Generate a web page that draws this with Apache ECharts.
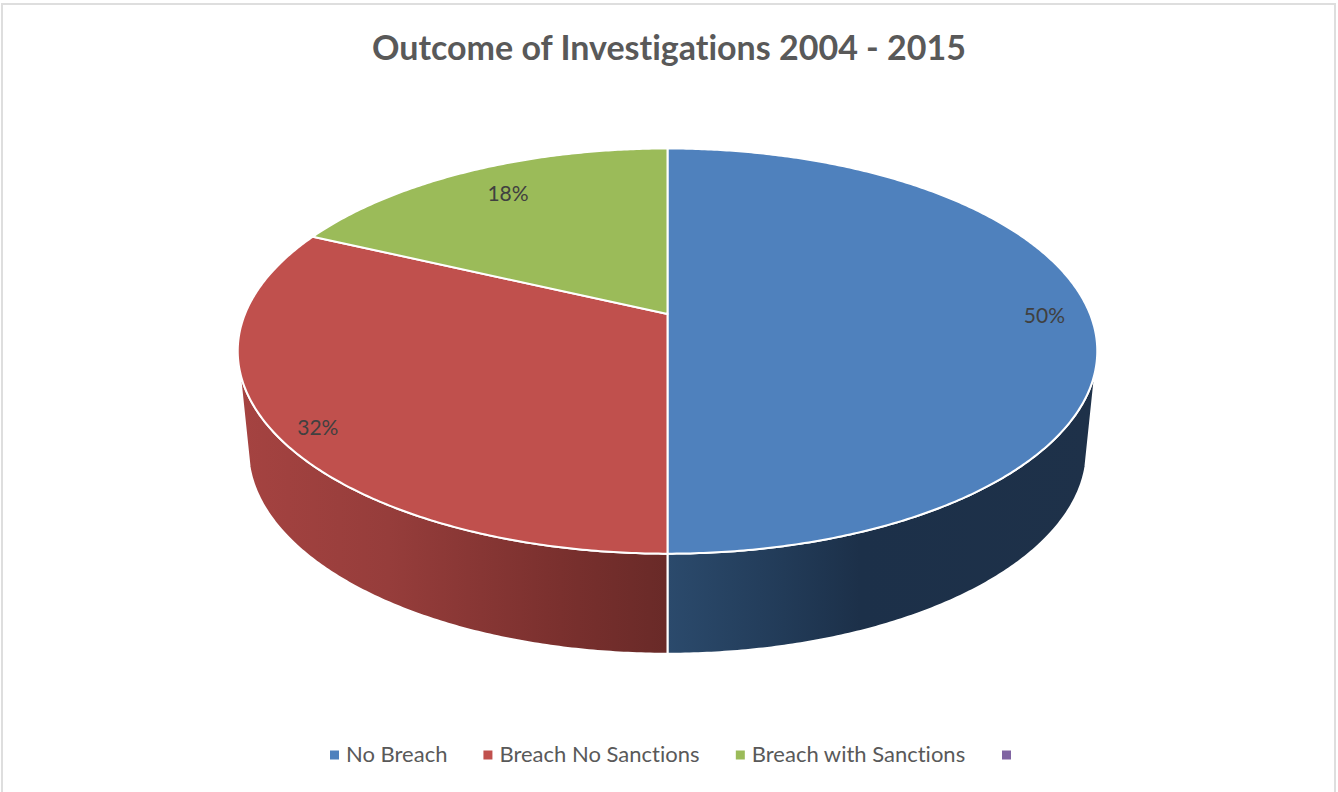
<!DOCTYPE html>
<html>
<head>
<meta charset="utf-8">
<style>
  html, body { margin: 0; padding: 0; background: #fff; }
  #chart { width: 1338px; height: 792px; }
  #chart text { font-variant-ligatures: none; }
</style>
<script src="https://cdn.jsdelivr.net/npm/echarts@6/dist/echarts.min.js"></script>
</head>
<body>
<div id="chart"></div>
<script>
// Outcome shares, in percent
const categories = ['No Breach', 'Breach No Sanctions', 'Breach with Sanctions', '\u00a0'];
const shares = [50, 32, 18, 0];
const topColors = ['#4f81bd', '#c0504d', '#9bbb59', '#8064a2'];
const chartTitle = 'Outcome of Investigations 2004 - 2015';

// Perspective disc: the apex of the slices and the scale of each rim
const topRim = { cx: 667.5, cy: 314, a: 422.5, b: 195.8, k: 0.183 };
const bottomRim = { cx: 667.5, cy: 413.5, a: 412.5, b: 197, k: 0.18 };
// Range of the rim (degrees clockwise from the far point) whose wall faces the viewer
const wallFrom = 105;
const wallTo = 255;
const labelRadius = 0.892;
const labelNudge = [[0, 0], [-1, 10], [18, 8], [0, 0]];

const wallGradients = [
  [[0, '#2b4a6c'], [0.27, '#223b58'], [0.45, '#1c3049'], [1, '#1e3149']],
  [[0, '#a54341'], [0.35, '#963d3b'], [0.75, '#7a302e'], [1, '#692a28']],
  [[0, '#5d7035'], [1, '#5d7035']],
  [[0, '#4d3c61'], [1, '#4d3c61']]
];

function project(rim, degrees, r) {
  const t = degrees * Math.PI / 180;
  const X = r * Math.sin(t);
  const Y = -r * Math.cos(t);
  const w = 1 - rim.k * Y;
  return [rim.cx + rim.a * X / w, rim.cy + rim.b * Y / w];
}

function arc(rim, from, to) {
  const pts = [];
  const steps = Math.max(1, Math.ceil(Math.abs(to - from) * 2));
  for (let i = 0; i <= steps; i++) {
    pts.push(project(rim, from + (to - from) * i / steps, 1));
  }
  return pts;
}

const total = shares.reduce((a, b) => a + b, 0);
const startAngles = shares.map((_, i) =>
  shares.slice(0, i).reduce((a, b) => a + b, 0) / total * 360);

function sliceRenderer(index) {
  return function (params, api) {
    const value = api.value(0);
    if (!value) return { type: 'group', children: [] };
    const from = startAngles[index];
    const to = from + value / total * 360;
    const children = [];
    const wStart = Math.max(from, wallFrom);
    const wEnd = Math.min(to, wallTo);
    if (wEnd > wStart) {
      children.push({
        type: 'polygon',
        z2: 1,
        shape: { points: arc(topRim, wStart, wEnd).concat(arc(bottomRim, wEnd, wStart)) },
        style: {
          fill: new echarts.graphic.LinearGradient(0, 0, 1, 0,
            wallGradients[index].map(s => ({ offset: s[0], color: s[1] }))),
          stroke: '#fff',
          lineWidth: 2,
          lineJoin: 'round'
        }
      });
    }
    const outline = [project(topRim, 0, 0)].concat(arc(topRim, from, to));
    children.push({
      type: 'polygon',
      z2: 2,
      shape: { points: outline },
      style: { fill: topColors[index], stroke: '#fff', lineWidth: 2, lineJoin: 'round' }
    });
    const at = project(topRim, (from + to) / 2, labelRadius);
    children.push({
      type: 'text',
      z2: 3,
      x: at[0] + labelNudge[index][0],
      y: at[1] + labelNudge[index][1],
      style: {
        text: Math.round(value / total * 100) + '%',
        fill: '#404040',
        font: '21px Lato',
        align: 'center',
        verticalAlign: 'middle'
      }
    });
    return { type: 'group', children };
  };
}

const chart = echarts.init(document.getElementById('chart'), null, { renderer: 'svg' });
chart.setOption({
  animation: false,
  backgroundColor: '#fff',
  title: {
    text: chartTitle,
    left: 'center',
    top: 24,
    textStyle: { fontFamily: 'Lato', fontSize: 34, fontWeight: 'bold', color: '#595959' }
  },
  legend: {
    left: 325,
    top: 737,
    // Square swatch set low in its box so it centres on the text's x-height
    icon: 'path://M0 0L0 0M0 4L9 4L9 13L0 13Z',
    itemWidth: 9,
    itemHeight: 13,
    itemGap: 36,
    selectedMode: false,
    data: categories,
    textStyle: { fontFamily: 'Lato', fontSize: 22, color: '#595959', padding: [0, 0, 4, 2] }
  },
  graphic: [{
    type: 'polyline',
    silent: true,
    shape: { points: [[2, 792], [2, 4], [1335, 4], [1335, 792]] },
    style: { fill: 'none', stroke: '#dedede', lineWidth: 2 }
  }],
  series: categories.map((name, i) => ({
    type: 'custom',
    name,
    coordinateSystem: 'none',
    renderItem: sliceRenderer(i),
    itemStyle: { color: topColors[i] },
    data: [[shares[i]]]
  }))
});
</script>
</body>
</html>
